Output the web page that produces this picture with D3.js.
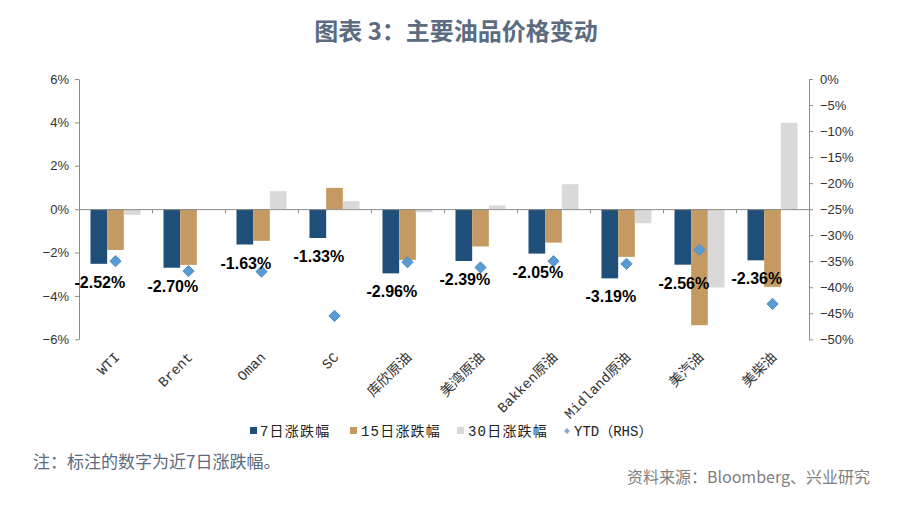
<!DOCTYPE html>
<html>
<head>
<meta charset="utf-8">
<script src="https://cdn.jsdelivr.net/npm/d3@7"></script>
<style>
  html, body { margin: 0; padding: 0; background: #fff; }
  svg { display: block; }
</style>
</head>
<body>
<svg id="chart" width="900" height="507"></svg>
<script>
const categories = ["WTI","Brent","Oman","SC","库欣原油","美湾原油","Bakken原油","Midland原油","美汽油","美柴油"];
const chg7 = [-2.52,-2.70,-1.63,-1.33,-2.96,-2.39,-2.05,-3.19,-2.56,-2.36];
const chg15 = [-1.88,-2.57,-1.46,0.98,-2.34,-1.72,-1.54,-2.20,-5.35,-3.58];
const chg30 = [-0.26,0.0,0.83,0.37,-0.15,0.17,1.15,-0.65,-3.61,3.98];
const ytd = [-35.0,-36.9,-37.0,-45.5,-35.2,-36.2,-35.0,-35.5,-32.8,-43.2];
const leftTicks = [6,4,2,0,-2,-4,-6];
const rightTicks = [0,-5,-10,-15,-20,-25,-30,-35,-40,-45,-50];
const seriesNames = ["7日涨跌幅","15日涨跌幅","30日涨跌幅","YTD（RHS）"];
const colors = ["#1f4e79","#c49a62","#d9d9d9","#5b9bd5"];

const svg = d3.select("#chart");
const L = 79, R = 809, T = 79, B = 339.3;

const x = d3.scaleBand().domain(categories).range([L, R]).paddingInner(0.315).paddingOuter(0.1575);
const xs = d3.scaleBand().domain([0,1,2]).range([0, x.bandwidth()]);
const yL = d3.scaleLinear().domain([-6, 6]).range([B, T]);
const yR = d3.scaleLinear().domain([-50, 0]).range([B, T]);
const fmt = v => (v < 0 ? "−" : "") + Math.abs(v) + "%";

// Title
svg.append("text").attr("x", 456).attr("y", 40).attr("text-anchor", "middle")
  .attr("font-family", "'Noto Sans CJK SC', sans-serif").attr("font-weight", "bold")
  .attr("font-size", 24).attr("fill", "#5b6b80").text("图表 3：主要油品价格变动");

// Bars
const series = [chg7, chg15, chg30];
series.forEach((vals, s) => {
  svg.append("g").selectAll("rect").data(vals).join("rect")
    .attr("x", (d, i) => x(categories[i]) + xs(s))
    .attr("width", xs.bandwidth())
    .attr("y", d => Math.min(yL(d), yL(0)))
    .attr("height", d => Math.abs(yL(d) - yL(0)))
    .attr("fill", colors[s]);
});

// Left axis
const axL = svg.append("g").attr("transform", `translate(${L},0)`)
  .call(d3.axisLeft(yL).tickValues(leftTicks).tickFormat(fmt).tickSize(4).tickSizeOuter(0).tickPadding(6));
// Right axis
const axR = svg.append("g").attr("transform", `translate(${R},0)`)
  .call(d3.axisRight(yR).tickValues(rightTicks).tickFormat(fmt).tickSize(4).tickSizeOuter(0).tickPadding(7));
[axL, axR].forEach(a => {
  a.select(".domain").attr("stroke", "#8c8c8c");
  a.selectAll(".tick line").attr("stroke", "#8c8c8c");
  a.selectAll(".tick text").attr("font-family", "'Liberation Sans', Arial, sans-serif")
    .attr("font-size", 13).attr("fill", "#333");
});

// Zero line with category boundary ticks
const xi = d3.scaleLinear().domain([0, categories.length]).range([L, R]);
const axX = svg.append("g").attr("transform", `translate(0,${yL(0)})`)
  .call(d3.axisBottom(xi).tickValues(d3.range(1, categories.length)).tickFormat("").tickSize(4).tickSizeOuter(0));
axX.select(".domain").attr("stroke", "#8c8c8c");
axX.selectAll(".tick line").attr("stroke", "#8c8c8c");

// Category labels
svg.append("g").selectAll("text").data(categories).join("text")
  .attr("transform", d => `translate(${x(d) + x.bandwidth() / 2 + 5},358) rotate(-45)`)
  .attr("text-anchor", "end")
  .attr("font-family", "'Liberation Mono', 'Noto Sans CJK SC', monospace")
  .attr("font-size", 14).attr("fill", "#333")
  .text(d => d);

// YTD diamonds
svg.append("g").selectAll("path").data(ytd).join("path")
  .attr("transform", (d, i) => `translate(${x(categories[i]) + x.bandwidth() / 2},${yR(d)})`)
  .attr("d", d3.symbol().type(d3.symbolDiamond2).size(80))
  .attr("fill", colors[3]).attr("stroke", "#4f8cc6").attr("stroke-width", 1);

// Data labels (7-day)
svg.append("g").selectAll("text").data(chg7).join("text")
  .attr("x", (d, i) => x(categories[i]) + xs(0) + xs.bandwidth() / 2 + 1)
  .attr("y", d => yL(d) + 24)
  .attr("text-anchor", "middle")
  .attr("font-family", "'Liberation Sans', Arial, sans-serif")
  .attr("font-weight", "bold").attr("font-size", 16).attr("fill", "#000")
  .text(d => d.toFixed(2) + "%");

// Legend
const legX = [250, 350, 457, 567];
const legTX = [260, 361, 468, 574];
const legY = 431;
const leg = svg.append("g");
seriesNames.forEach((n, i) => {
  if (i < 3) {
    leg.append("rect").attr("x", legX[i]).attr("y", legY - 4).attr("width", 7).attr("height", 7).attr("fill", colors[i]);
  } else {
    leg.append("path").attr("transform", `translate(${legX[i]},${legY})`)
      .attr("d", d3.symbol().type(d3.symbolDiamond2).size(22)).attr("fill", "#8aa9c4");
  }
  leg.append("text").attr("x", legTX[i]).attr("y", legY + 5)
    .attr("font-family", "'Liberation Mono', 'Noto Sans CJK SC', monospace")
    .attr("font-size", 14).attr("letter-spacing", i === 3 ? 0 : 1.2).attr("fill", "#222").text(n);
});

// Footnotes
svg.append("text").attr("x", 33).attr("y", 468)
  .attr("font-family", "'Noto Sans CJK SC', sans-serif").attr("font-size", 17)
  .attr("fill", "#5b6b80").text("注：标注的数字为近7日涨跌幅。");
svg.append("text").attr("x", 870).attr("y", 483).attr("text-anchor", "end")
  .attr("font-family", "'Noto Sans CJK SC', sans-serif").attr("font-size", 16)
  .attr("fill", "#808080").text("资料来源：Bloomberg、兴业研究");
</script>
</body>
</html>
